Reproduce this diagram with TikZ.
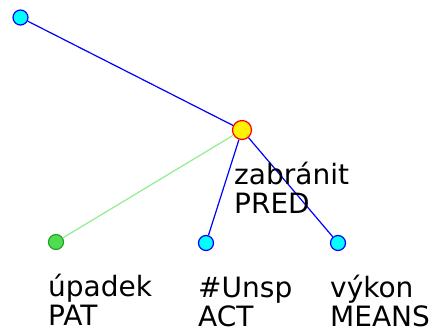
\documentclass[tikz,border=0pt]{standalone}
\usepackage{fontspec}
\setmainfont{DejaVu Sans}
\usetikzlibrary{positioning}

\definecolor{leafcyan}{RGB}{0,255,255}
\definecolor{edgeblue}{RGB}{0,0,255}
\definecolor{patgreen}{RGB}{80,220,80}
\definecolor{patborder}{RGB}{40,160,40}
\definecolor{patedge}{RGB}{144,238,144}

\tikzset{
  tnode/.style={circle,inner sep=0pt,minimum size=15pt,line width=1.2pt,draw=edgeblue,fill=leafcyan},
  rootnode/.style={tnode,minimum size=19pt,draw=red,fill=yellow},
  patnode/.style={tnode,draw=patborder,fill=patgreen},
  tlabel/.style={anchor=base west,inner sep=0pt,align=left,font=\fontsize{28}{29}\selectfont},
  tedge/.style={line width=1.2pt,draw=edgeblue}
}

\begin{document}
\begin{tikzpicture}[x=1pt,y=-1pt]
  \useasboundingbox (0,0) rectangle (438,331);

  % nodes
  \node[tnode] (top) at (20.5,17.5) {};
  \node[rootnode] (pred) at (242,130) {};
  \node[patnode] (pat) at (56,242) {};
  \node[tnode] (act) at (206,243) {};
  \node[tnode] (means) at (338,243) {};

  % edges
  \draw[tedge] (top) -- (pred);
  \draw[tedge,draw=patedge] (pred) -- (pat);
  \foreach \n in {act,means} {
    \draw[tedge] (pred) -- (\n);
  }

  % labels (base is the second line)
  \foreach \n/\w/\f in {pred/zabránit/PRED, pat/úpadek/PAT, act/\#Unsp/ACT, means/výkon/MEANS} {
    \node[tlabel] (\n-lab) at ([xshift=-8pt,yshift=-83pt]\n.center) {\w\\\f};
  }
\end{tikzpicture}
\end{document}
